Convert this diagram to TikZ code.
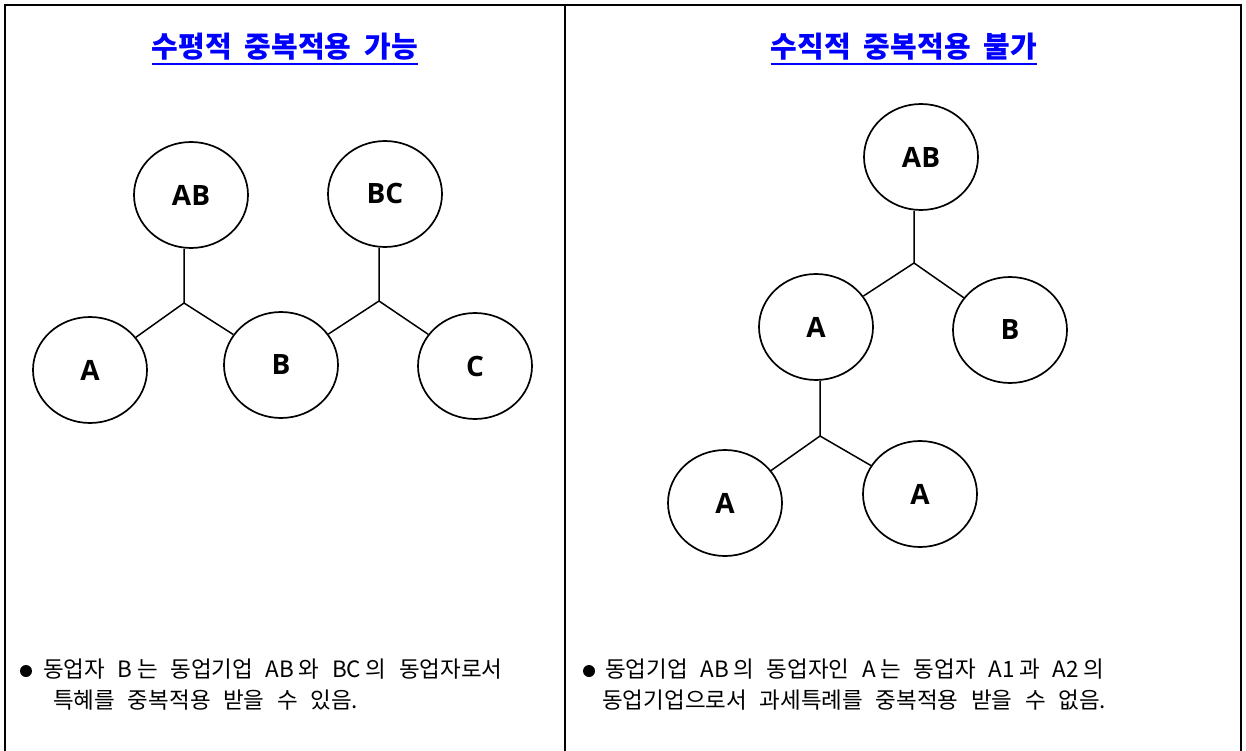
\documentclass[tikz,border=0pt]{standalone}
\usepackage{fontspec}
\setmainfont{Noto Sans CJK KR}[WordSpace=2.5]
\newfontfamily\labfont{Open Sans}
\usetikzlibrary{shapes.geometric}
\definecolor{ttl}{RGB}{0,0,255}
\newcommand{\ts}{\hspace{0.2em}}
\begin{document}
\begin{tikzpicture}[x=1pt,y=-1pt,
  circ/.style={draw, line width=1.7pt, ellipse, minimum width=114pt, minimum height=106pt, inner sep=0pt, font=\labfont\bfseries\fontsize{28}{32}\selectfont},
  conn/.style={line width=1.5pt},
  frame/.style={line width=1.6pt},
  ttlstyle/.style={font=\bfseries\fontsize{29}{34}\selectfont, text=ttl, inner sep=0pt, anchor=base},
  body/.style={font=\fontsize{22.5}{27}\selectfont, inner sep=0pt, anchor=base west},
  bullet/.style={circle, fill=black, minimum size=12pt, inner sep=0pt}
]
\useasboundingbox (0,0) rectangle (1246,751);
% frame
\draw[frame] (5,753) -- (5,5) -- (1241,5) -- (1241,753);
\draw[frame] (565,5) -- (565,753);
% titles
\node[ttlstyle] (t1) at (285,58) {수평적\hspace{0.45em}중복적용\hspace{0.45em}가능};
\node[ttlstyle] (t2) at (904,58) {수직적\hspace{0.45em}중복적용\hspace{0.45em}불가};
\draw[ttl, line width=2.4pt] ([yshift=-6pt]t1.base west) -- ([yshift=-6pt]t1.base east);
\draw[ttl, line width=2.4pt] ([yshift=-6pt]t2.base west) -- ([yshift=-6pt]t2.base east);
% left diagram
\node[circ] (lab) at (191,195) {AB};
\node[circ] (lbc) at (385,194) {BC};
\node[circ] (la) at (90,370) {A};
\node[circ] (lb) at (281,365) {B};
\node[circ] (lc) at (475,366) {C};
\coordinate (j1) at (184,303);
\coordinate (j2) at (379,301);
\draw[conn] (j1 |- lab.south) -- (j1) -- (la);
\draw[conn] (j1) -- (lb);
\draw[conn] (j2 |- lbc.south) -- (j2) -- (lb);
\draw[conn] (j2) -- (lc);
% right diagram
\node[circ] (rab) at (921,157) {AB};
\node[circ] (ra) at (816,327) {A};
\node[circ] (rb) at (1010,330) {B};
\node[circ] (ra1) at (725,503) {A};
\node[circ] (ra2) at (920,494) {A};
\coordinate (j3) at (914,263);
\coordinate (j4) at (820,436);
\draw[conn] (j3 |- rab.south) -- (j3) -- (ra);
\draw[conn] (j3) -- (rb);
\draw[conn] (j4 |- ra.south) -- (j4) -- (ra1);
\draw[conn] (j4) -- (ra2);
% bottom texts
\node[bullet] (bl) at (26,671) {};
\node[body] (l1) at (43,677) {동업자 B\ts 는 동업기업 AB\ts 와 BC\ts 의 동업자로서};
\node[body] (l2) at (53,708) {특혜를 중복적용 받을 수 있음.};
\node[bullet] (br) at (589,671) {};
\node[body] (r1) at (605,677) {동업기업 AB\ts 의 동업자인 A\ts 는 동업자 A1\ts 과 A2\ts 의};
\node[body] (r2) at (602,708) {동업기업으로서 과세특례를 중복적용 받을 수 없음.};
\end{tikzpicture}
\end{document}
